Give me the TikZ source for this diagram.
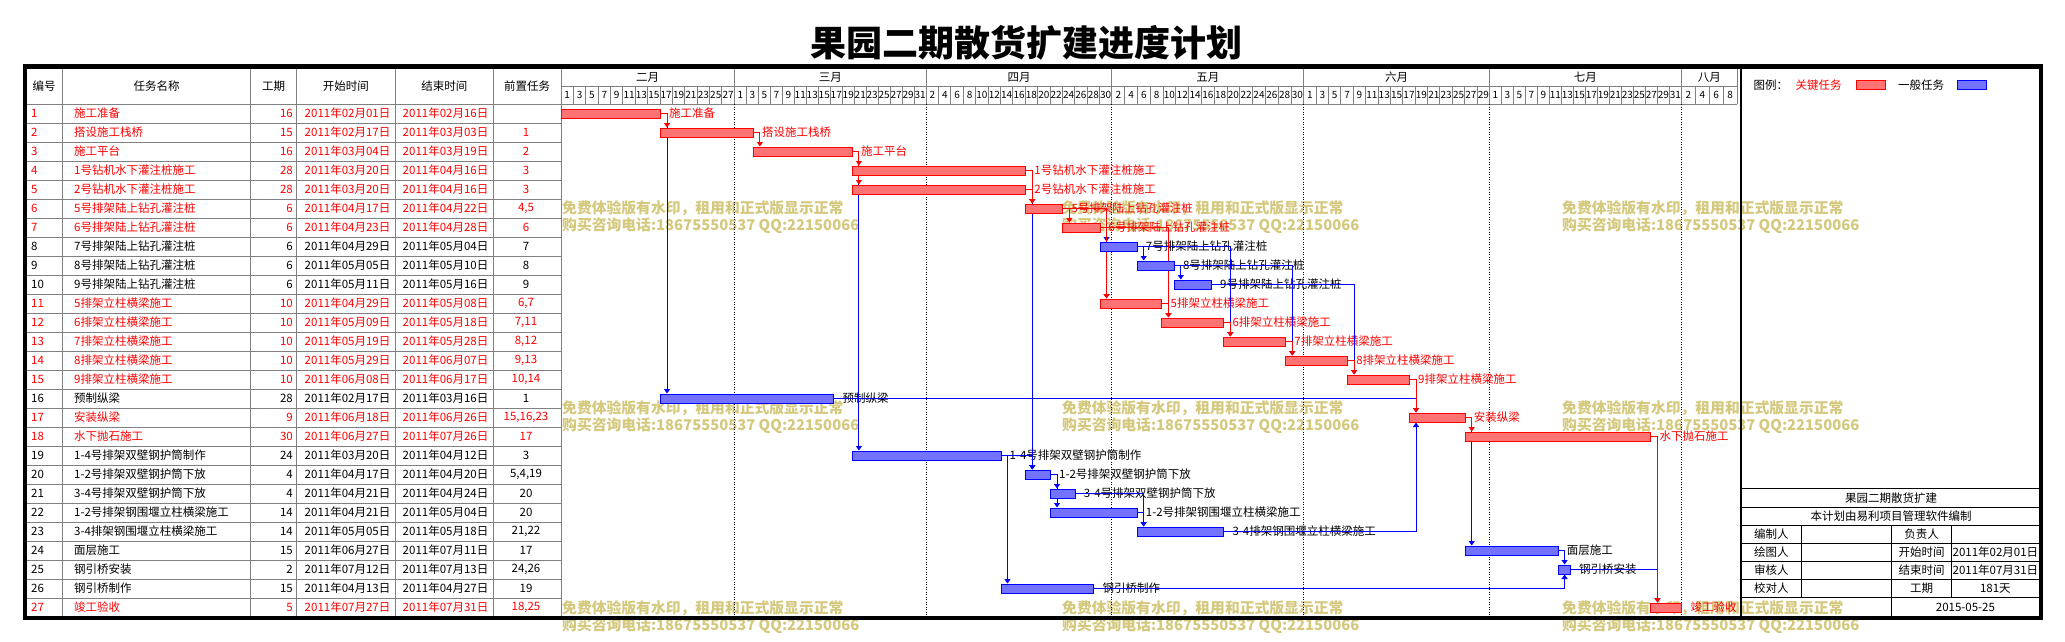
\documentclass[tikz,border=0pt]{standalone}
\usepackage{fontspec}
\setmainfont{Noto Sans CJK SC}
\usetikzlibrary{arrows.meta}
\pgfdeclarelayer{back}
\pgfdeclarelayer{links}
\pgfsetlayers{back,links,main}
\definecolor{wmc}{RGB}{212,200,125}
\definecolor{gridc}{RGB}{128,128,128}
\newcommand{\tsz}{\fontsize{11.5}{13}\selectfont}
\begin{document}
\begin{tikzpicture}[x=1pt,y=-1pt,>={Triangle[length=4.5pt,width=6pt]},
  gridline/.style={draw=gridc,line width=1pt},
  monthline/.style={line width=1pt,dash pattern=on 1pt off 1.5pt},
  cell/.style={font=\tsz,inner sep=0pt},
  daylab/.style={font=\fontsize{10}{11}\selectfont,inner sep=0pt},
  taskbar/.style={minimum height=9pt,inner sep=0pt,line width=1pt},
  critbar/.style={draw=red,fill=red!55},
  normbar/.style={draw=blue,fill=blue!55},
  critlink/.style={->,draw=red,line width=1pt},
  normlink/.style={->,draw=blue,line width=1pt},
  wmark/.style={font=\bfseries\fontsize{14.8}{16}\selectfont,text=wmc,inner sep=0pt},
  boxline/.style={line width=1pt}]
\useasboundingbox (0,0) rectangle (2065,642);
\node[font=\bfseries\fontsize{36}{40}\selectfont,inner sep=0pt] (title) at (1026,43) {果园二期散货扩建进度计划};
\begin{pgfonlayer}{back}
\foreach \wx/\p in {562/a,1062/b,1562/c}
  \foreach \wy/\q in {208.5/1,408.5/2,608.5/3}{
    \node[wmark,anchor=west] (w\p\q) at (\wx,\wy) {免费体验版有水印，租用和正式版显示正常};
    \node[wmark,anchor=west] (v\p\q) at (\wx,\wy+17.5) {购买咨询电话:18675550537 QQ:22150066};
  }
\draw[gridline] (27,104) -- (1737,104);
\draw[gridline] (561,86.75) -- (1737,86.75);
\foreach \k in {1,...,26} \draw[gridline] (27,{104+19*\k}) -- (561,{104+19*\k});
\foreach \cx in {62.5,250.7,296.4,395.4,493.2,561} \draw[gridline] (\cx,68.75) -- (\cx,617);
\draw[gridline] (1737,68.75) -- (1737,104);
\foreach \md in {28,59,89,120,150,181} \draw[monthline] ({561+\md*6.19},104) -- ({561+\md*6.19},617);
\end{pgfonlayer}
\node[cell] (h1) at (44,86.5) {编号};
\node[cell] (h2) at (156.6,86.5) {任务名称};
\node[cell] (h3) at (273.5,86.5) {工期};
\node[cell] (h4) at (345.9,86.5) {开始时间};
\node[cell] (h5) at (444.3,86.5) {结束时间};
\node[cell] (h6) at (527,86.5) {前置任务};
\foreach \ms/\me/\mn/\mf/\mname in {0/28/14/1/二月,28/59/16/1/三月,59/89/15/2/四月,89/120/15/2/五月,120/150/15/1/六月,150/181/16/1/七月,181/190/4/2/八月}{
  \node[cell] (m\ms) at ({561+(\ms+\me)/2*6.19},77.5) {\mname};
  \draw[gridline] ({561+\ms*6.19},68.75) -- ({561+\ms*6.19},104);
  \foreach \k in {1,...,\mn}{
    \pgfmathtruncatemacro\dd{\mf+2*(\k-1)}
    \node[daylab] (d\ms-\k) at ({561+(\ms+(\me-\ms)*(\k-0.5)/\mn)*6.19},95.3) {\dd};
    \draw[gridline] ({561+(\ms+(\me-\ms)*\k/\mn)*6.19},86.75) -- ++(0,17.25);
  }
}
\foreach \i/\tn/\du/\sd/\ed/\pr/\tc/\kb/\s/\e in {
  1/施工准备/16/02月01日/02月16日/{}/red/critbar/0/16,
  2/搭设施工栈桥/15/02月17日/03月03日/1/red/critbar/16/31,
  3/施工平台/16/03月04日/03月19日/2/red/critbar/31/47,
  4/1号钻机水下灌注桩施工/28/03月20日/04月16日/3/red/critbar/47/75,
  5/2号钻机水下灌注桩施工/28/03月20日/04月16日/3/red/critbar/47/75,
  6/5号排架陆上钻孔灌注桩/6/04月17日/04月22日/{4,5}/red/critbar/75/81,
  7/6号排架陆上钻孔灌注桩/6/04月23日/04月28日/6/red/critbar/81/87,
  8/7号排架陆上钻孔灌注桩/6/04月29日/05月04日/7/black/normbar/87/93,
  9/8号排架陆上钻孔灌注桩/6/05月05日/05月10日/8/black/normbar/93/99,
  10/9号排架陆上钻孔灌注桩/6/05月11日/05月16日/9/black/normbar/99/105,
  11/5排架立柱横梁施工/10/04月29日/05月08日/{6,7}/red/critbar/87/97,
  12/6排架立柱横梁施工/10/05月09日/05月18日/{7,11}/red/critbar/97/107,
  13/7排架立柱横梁施工/10/05月19日/05月28日/{8,12}/red/critbar/107/117,
  14/8排架立柱横梁施工/10/05月29日/06月07日/{9,13}/red/critbar/117/127,
  15/9排架立柱横梁施工/10/06月08日/06月17日/{10,14}/red/critbar/127/137,
  16/预制纵梁/28/02月17日/03月16日/1/black/normbar/16/44,
  17/安装纵梁/9/06月18日/06月26日/{15,16,23}/red/critbar/137/146,
  18/水下抛石施工/30/06月27日/07月26日/17/red/critbar/146/176,
  19/1-4号排架双壁钢护筒制作/24/03月20日/04月12日/3/black/normbar/47/71,
  20/1-2号排架双壁钢护筒下放/4/04月17日/04月20日/{5,4,19}/black/normbar/75/79,
  21/3-4号排架双壁钢护筒下放/4/04月21日/04月24日/20/black/normbar/79/83,
  22/1-2号排架钢围堰立柱横梁施工/14/04月21日/05月04日/20/black/normbar/79/93,
  23/3-4排架钢围堰立柱横梁施工/14/05月05日/05月18日/{21,22}/black/normbar/93/107,
  24/面层施工/15/06月27日/07月11日/17/black/normbar/146/161,
  25/钢引桥安装/2/07月12日/07月13日/{24,26}/black/normbar/161/163,
  26/钢引桥制作/15/04月13日/04月27日/19/black/normbar/71/86,
  27/竣工验收/5/07月27日/07月31日/{18,25}/red/critbar/176/181}{
  \pgfmathsetmacro\ry{113.5+19*(\i-1)}
  \node[cell,text=\tc,anchor=west] (n\i) at (31,\ry) {\i};
  \node[cell,text=\tc,anchor=west] (t\i) at (74,\ry) {\tn};
  \node[cell,text=\tc,anchor=east] (du\i) at (293,\ry) {\du};
  \node[cell,text=\tc,anchor=east] (sd\i) at (390.5,\ry) {2011年\sd};
  \node[cell,text=\tc,anchor=east] (ed\i) at (488.5,\ry) {2011年\ed};
  \node[cell,text=\tc] (pr\i) at (526,\ry) {\pr};
  \node[taskbar,\kb,anchor=west,minimum width={(\e-\s)*6.19pt}] (b\i) at ({561+\s*6.19},\ry) {};
  \begin{pgfonlayer}{back}
  \node[cell,text=\tc,anchor=west] (l\i) at ([xshift=8pt]b\i.east) {\tn};
  \end{pgfonlayer}
}
\begin{pgfonlayer}{links}
\foreach \a/\b in {7/8,8/9,9/10,8/13,9/14,10/15,1/16,16/17,3/19,4/20,5/20,19/20,20/21,20/22,21/23,22/23,17/24,24/25,19/26,25/27}
  \draw[normlink] (b\a.east) -| ([xshift=7pt]b\b.north west);
\foreach \a/\b in {23/17,26/25}
  \draw[normlink] (b\a.east) -| ([xshift=7pt]b\b.south west);
\foreach \a/\b in {1/2,2/3,3/4,3/5,4/6,5/6,6/7,6/11,7/11,7/12,11/12,12/13,13/14,14/15,15/17,17/18,18/27}
  \draw[critlink] (b\a.east) -| ([xshift=7pt]b\b.north west);
\end{pgfonlayer}
\node[cell,anchor=west] (keyhead) at (1753.5,85) {图例：};
\node[cell,anchor=west,text=red] (keycritt) at (1795.5,85) {关键任务};
\node[taskbar,critbar,minimum width=29pt] (keycrit) at (1870.5,85.5) {};
\node[cell,anchor=west] (keynormt) at (1898,85) {一般任务};
\node[taskbar,normbar,minimum width=29pt] (keynorm) at (1972,85.5) {};
\draw[line width=1.2pt] (1741,68) -- (1741,617);
\foreach \hy in {488.5,507,525.5,543.5,561.5,579.5,597.5} \draw[boxline] (1741,\hy) -- (2039,\hy);
\draw[boxline] (1801.7,525.5) -- (1801.7,597.5);
\draw[boxline] (1891.7,525.5) -- (1891.7,617);
\draw[boxline] (1951.7,525.5) -- (1951.7,597.5);
\node[cell] (proj) at (1891,497.7) {果园二期散货扩建};
\node[cell] (soft) at (1891,516.2) {本计划由易利项目管理软件编制};
\node[cell] (r1a) at (1771.3,534.5) {编制人};
\node[cell] (r1b) at (1921.7,534.5) {负责人};
\node[cell] (r2a) at (1771.3,552.5) {绘图人};
\node[cell] (r2b) at (1921.7,552.5) {开始时间};
\node[cell] (r2c) at (1995.4,552.5) {2011年02月01日};
\node[cell] (r3a) at (1771.3,570.5) {审核人};
\node[cell] (r3b) at (1921.7,570.5) {结束时间};
\node[cell] (r3c) at (1995.4,570.5) {2011年07月31日};
\node[cell] (r4a) at (1771.3,588.5) {校对人};
\node[cell] (r4b) at (1921.7,588.5) {工期};
\node[cell] (r4c) at (1995.4,588.5) {181天};
\node[cell] (date) at (1965.4,607.2) {2015-05-25};
\draw[line width=4.5pt] (25,66.5) rectangle (2041,618);
\end{tikzpicture}
\end{document}
